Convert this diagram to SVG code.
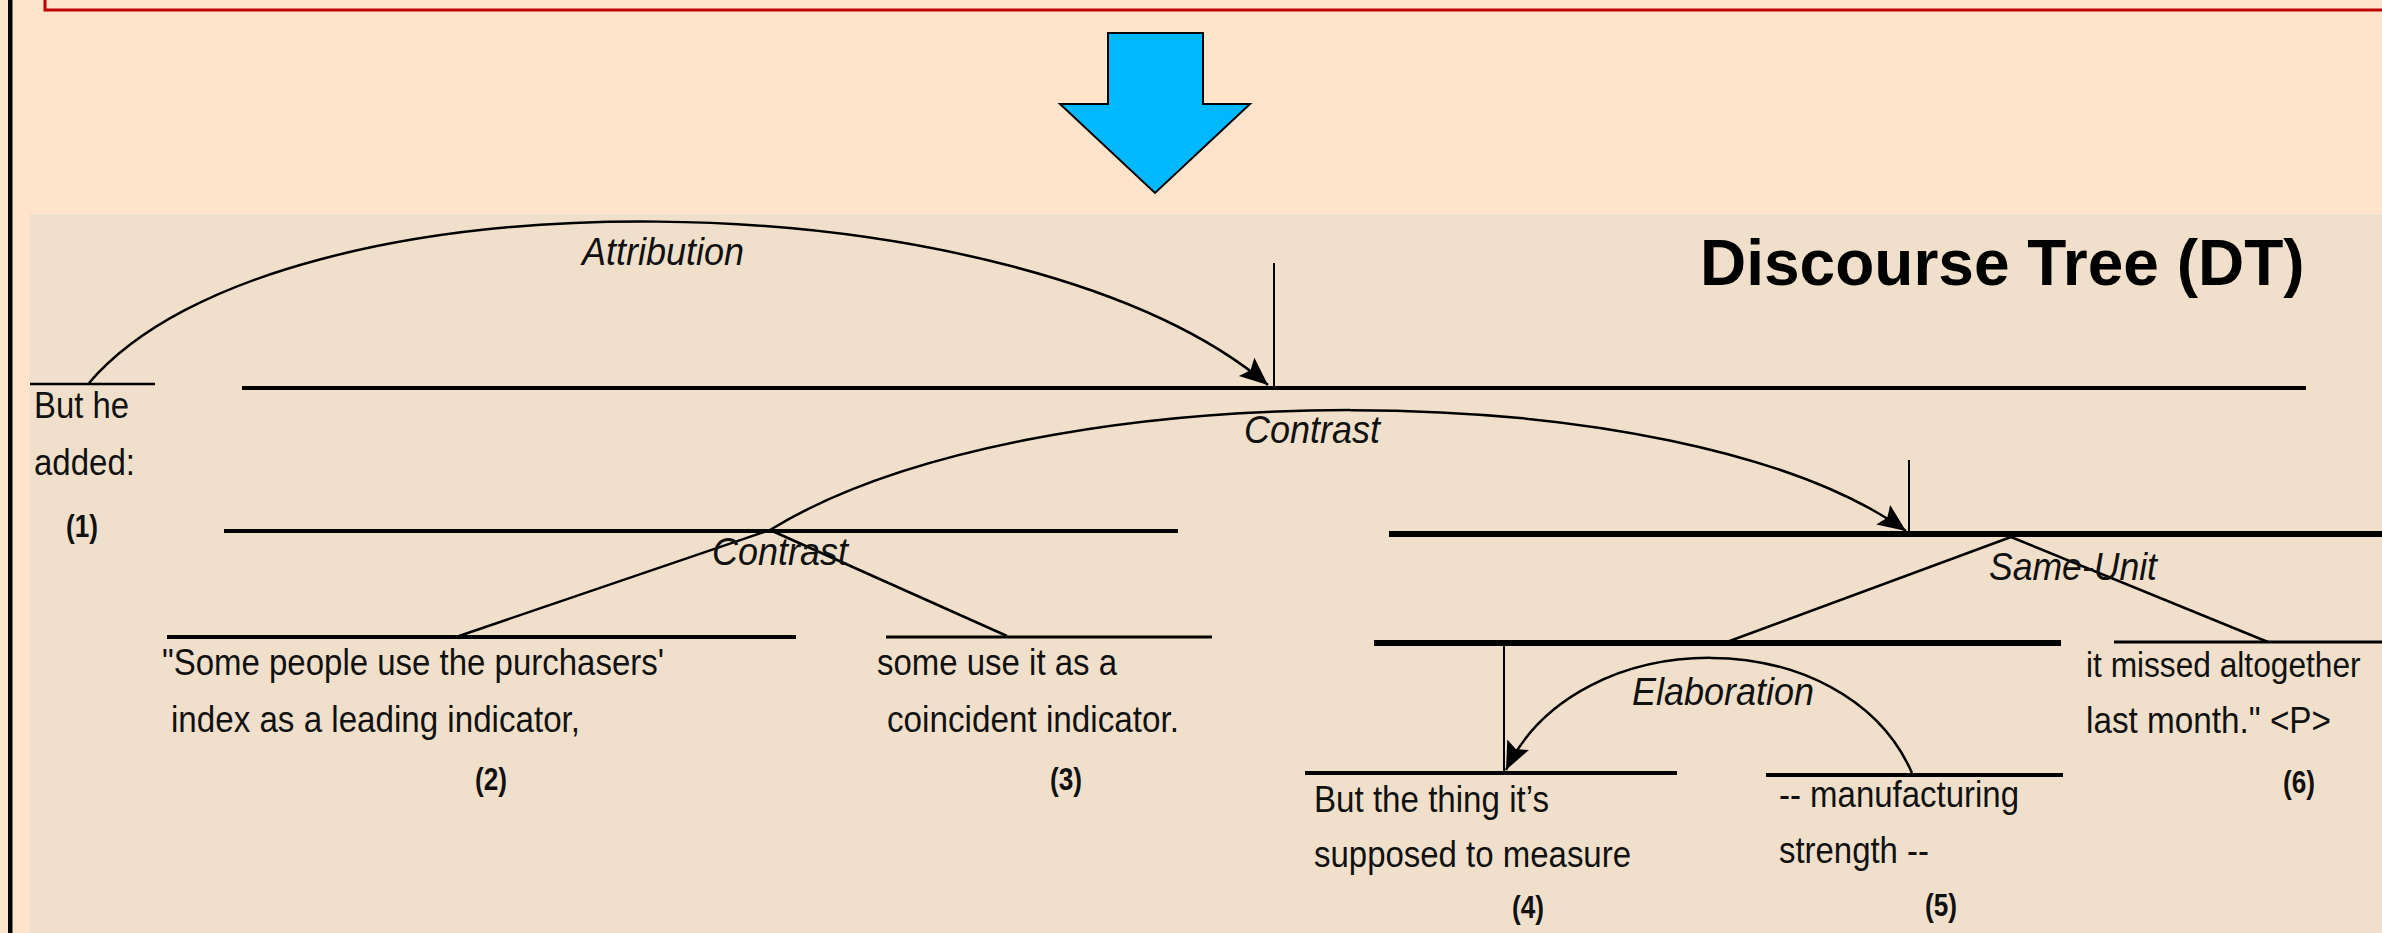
<svg xmlns="http://www.w3.org/2000/svg" width="2382" height="933" viewBox="0 0 2382 933">
<defs>
<style>
.t{font-family:"Liberation Sans",Arial,sans-serif;font-size:36px;fill:#111}
.r{font-family:"Liberation Sans",Arial,sans-serif;font-size:39px;font-style:italic;fill:#111}
.n{font-family:"Liberation Sans",Arial,sans-serif;font-size:31px;font-weight:bold;fill:#111}
.span{stroke:#000;fill:none}
.arc{stroke:#000;stroke-width:2.5;fill:none}
</style>
<marker id="ah" markerUnits="userSpaceOnUse" markerWidth="34" markerHeight="30" viewBox="-32 -15 34 30" refX="0" refY="0" orient="auto">
<path d="M0,0 L-28,-12 L-23,0 L-28,12 Z" fill="#000"/>
</marker>
</defs>
<rect x="0" y="0" width="2382" height="933" fill="#FFE4CB"/>
<rect x="45" y="-30" width="2400" height="40" fill="none" stroke="#C00000" stroke-width="3"/>
<rect x="8" y="0" width="4.5" height="933" fill="#000"/>
<rect x="30" y="214" width="2352" height="719" fill="#F0E0CB"/>
<g id="arrow">
<polygon points="1108,33 1203,33 1203,104 1250,104 1155,193 1060,104 1108,104" fill="#00B8FF" stroke="#000" stroke-width="2"/>
</g>
<g id="title"><text x="1700" y="285" font-family="'Liberation Sans',Arial,sans-serif" font-size="64" font-weight="bold" fill="#000">Discourse Tree (DT)</text></g>
<g id="connectors">
<line class="span" x1="30" y1="384" x2="155" y2="384" stroke-width="2.5"/>
<line class="span" x1="242" y1="388" x2="2306" y2="388" stroke-width="4"/>
<line class="span" x1="224" y1="531" x2="1178" y2="531" stroke-width="4"/>
<line class="span" x1="1389" y1="534" x2="2382" y2="534" stroke-width="6"/>
<line class="span" x1="167" y1="637" x2="796" y2="637" stroke-width="4"/>
<line class="span" x1="886" y1="637" x2="1212" y2="637" stroke-width="3"/>
<line class="span" x1="1374" y1="643" x2="2061" y2="643" stroke-width="6"/>
<line class="span" x1="2114" y1="642" x2="2382" y2="642" stroke-width="3"/>
<line class="span" x1="1305" y1="773" x2="1677" y2="773" stroke-width="4"/>
<line class="span" x1="1766" y1="775" x2="2063" y2="775" stroke-width="4"/>
<line class="span" x1="1274" y1="263" x2="1274" y2="388" stroke-width="2"/>
<line class="span" x1="1909" y1="460" x2="1909" y2="533" stroke-width="2"/>
<line class="span" x1="1504" y1="643" x2="1504" y2="773" stroke-width="2"/>
<path class="arc" d="M89,383 C280,160 1020,175 1268,385" marker-end="url(#ah)"/>
<path class="arc" d="M770,530 C1030,370 1680,370 1906,531" marker-end="url(#ah)"/>
<path class="arc" d="M1912,773 C1845,620 1578,620 1506,770" marker-end="url(#ah)"/>
<line class="arc" x1="770" y1="530" x2="459" y2="636"/>
<line class="arc" x1="770" y1="530" x2="1007" y2="636"/>
<line class="arc" x1="2011" y1="537" x2="1727" y2="642"/>
<line class="arc" x1="2011" y1="537" x2="2268" y2="642"/>
</g>
<g id="labels">
<text class="r" x="582" y="265" textLength="162" lengthAdjust="spacingAndGlyphs">Attribution</text>
<text class="r" x="1244" y="443" textLength="136" lengthAdjust="spacingAndGlyphs">Contrast</text>
<text class="r" x="712" y="565" textLength="136" lengthAdjust="spacingAndGlyphs">Contrast</text>
<text class="r" x="1989" y="580" textLength="168" lengthAdjust="spacingAndGlyphs">Same-Unit</text>
<text class="r" x="1632" y="705" textLength="182" lengthAdjust="spacingAndGlyphs">Elaboration</text>
</g>
<g id="u1"><text class="t" x="34" y="418" textLength="95" lengthAdjust="spacingAndGlyphs">But he</text><text class="t" x="34" y="475" textLength="101" lengthAdjust="spacingAndGlyphs">added:</text><text class="n" x="66" y="537" textLength="32" lengthAdjust="spacingAndGlyphs">(1)</text></g>
<g id="u2"><text class="t" x="162" y="675" textLength="502" lengthAdjust="spacingAndGlyphs">"Some people use the purchasers'</text><text class="t" x="171" y="732" textLength="409" lengthAdjust="spacingAndGlyphs">index as a leading indicator,</text><text class="n" x="475" y="790" textLength="32" lengthAdjust="spacingAndGlyphs">(2)</text></g>
<g id="u3"><text class="t" x="877" y="675" textLength="240" lengthAdjust="spacingAndGlyphs">some use it as a</text><text class="t" x="887" y="732" textLength="292" lengthAdjust="spacingAndGlyphs">coincident indicator.</text><text class="n" x="1050" y="790" textLength="32" lengthAdjust="spacingAndGlyphs">(3)</text></g>
<g id="u4"><text class="t" x="1314" y="812" textLength="235" lengthAdjust="spacingAndGlyphs">But the thing it’s</text><text class="t" x="1314" y="867" textLength="317" lengthAdjust="spacingAndGlyphs">supposed to measure</text><text class="n" x="1512" y="918" textLength="32" lengthAdjust="spacingAndGlyphs">(4)</text></g>
<g id="u5"><text class="t" x="1779" y="807" textLength="240" lengthAdjust="spacingAndGlyphs">-- manufacturing</text><text class="t" x="1779" y="863" textLength="150" lengthAdjust="spacingAndGlyphs">strength --</text><text class="n" x="1925" y="916" textLength="32" lengthAdjust="spacingAndGlyphs">(5)</text></g>
<g id="u6"><text class="t" transform="translate(2086,677) scale(0.88,1)">it missed altogether</text><text class="t" x="2086" y="733" textLength="245" lengthAdjust="spacingAndGlyphs">last month." &lt;P&gt;</text><text class="n" x="2283" y="793" textLength="32" lengthAdjust="spacingAndGlyphs">(6)</text></g>
</svg>
